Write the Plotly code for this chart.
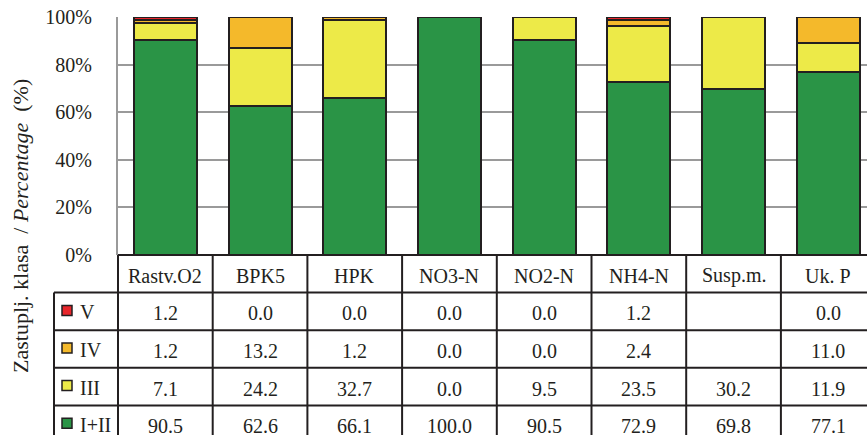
import plotly.graph_objects as go

# Water-quality parameters and share of each quality class (%)
categories = ["Rastv.O2", "BPK5", "HPK", "NO3-N", "NO2-N", "NH4-N", "Susp.m.", "Uk. P"]
class_names = ["V", "IV", "III", "I+II"]
class_colors = ["#E8262B", "#F4B92B", "#EDEA48", "#2A9446"]
share_V = [1.2, 0.0, 0.0, 0.0, 0.0, 1.2, None, 0.0]
share_IV = [1.2, 13.2, 1.2, 0.0, 0.0, 2.4, None, 11.0]
share_III = [7.1, 24.2, 32.7, 0.0, 9.5, 23.5, 30.2, 11.9]
share_I_II = [90.5, 62.6, 66.1, 100.0, 90.5, 72.9, 69.8, 77.1]
y_ticks = [0, 20, 40, 60, 80, 100]

rows = [share_V, share_IV, share_III, share_I_II]  # table order, top to bottom

# Geometry (pixels)
W, H = 867, 435
L, T, B = 118, 17, 180
PLOT_BOTTOM = H - B
PLOT_H = PLOT_BOTTOM - T
STEP = 94.7          # width of one category column
ROW_H = 37.6         # height of one table row
LEG_LEFT = 54
X_MAX = -0.5 + (W - L) / STEP

INK = "#231F20"
GRID = "#9A9A9A"
FONT = "Liberation Serif"


def px_x(px):
    return (px - L) / (W - L)


def px_y(py):
    return (PLOT_BOTTOM - py) / PLOT_H


fig = go.Figure()

# Stacked bars, bottom class first
for name, color, vals in reversed(list(zip(class_names, class_colors, rows))):
    fig.add_trace(go.Bar(
        x=list(range(len(categories))), y=vals, name=name,
        marker=dict(color=color, line=dict(color=INK, width=2)),
        hoverinfo="skip",
    ))

shapes = []
annotations = []

# Data table grid
row_y = [PLOT_BOTTOM + i * ROW_H for i in range(6)]
shapes.append(dict(type="line", xref="paper", yref="paper",
                   x0=px_x(L), x1=px_x(W), y0=px_y(row_y[0]), y1=px_y(row_y[0]),
                   line=dict(color=INK, width=2)))
for i in range(1, 5):
    shapes.append(dict(type="line", xref="paper", yref="paper",
                       x0=px_x(LEG_LEFT), x1=px_x(W), y0=px_y(row_y[i]), y1=px_y(row_y[i]),
                       line=dict(color=INK, width=2)))
for k in range(len(categories)):
    cx = L + k * STEP
    shapes.append(dict(type="line", xref="paper", yref="paper",
                       x0=px_x(cx), x1=px_x(cx), y0=px_y(row_y[0]), y1=px_y(row_y[5]),
                       line=dict(color=INK, width=2)))
shapes.append(dict(type="line", xref="paper", yref="paper",
                   x0=px_x(LEG_LEFT), x1=px_x(LEG_LEFT), y0=px_y(row_y[1]), y1=px_y(row_y[5]),
                   line=dict(color=INK, width=2)))

text_font = dict(family=FONT, size=20, color=INK)

# Column headers
for k, cat in enumerate(categories):
    annotations.append(dict(xref="paper", yref="paper",
                            x=px_x(L + (k + 0.5) * STEP), y=px_y(row_y[0] + ROW_H / 2 + 2),
                            text=cat, showarrow=False, font=text_font,
                            xanchor="center", yanchor="middle"))

# Row legend keys and values
for i, (name, color, vals) in enumerate(zip(class_names, class_colors, rows)):
    cy = row_y[i + 1] + ROW_H / 2
    shapes.append(dict(type="rect", xref="paper", yref="paper",
                       x0=px_x(62), x1=px_x(72), y0=px_y(cy + 4), y1=px_y(cy - 6),
                       fillcolor=color, line=dict(color=INK, width=1.5)))
    annotations.append(dict(xref="paper", yref="paper",
                            x=px_x(78), y=px_y(cy + 1), text=name, showarrow=False,
                            font=text_font, xanchor="left", yanchor="middle"))
    for k, v in enumerate(vals):
        annotations.append(dict(xref="paper", yref="paper",
                                x=px_x(L + (k + 0.5) * STEP), y=px_y(cy + 2),
                                text="" if v is None else f"{v:.1f}", showarrow=False,
                                font=text_font, xanchor="center", yanchor="middle"))

# Vertical axis title
nb = "\u00a0"
annotations.append(dict(xref="paper", yref="paper", x=px_x(20), y=px_y(226),
                        text=f"Zastuplj. klasa{nb}{nb}/ <i>Percentage</i>{nb}{nb}(%)",
                        textangle=-90, showarrow=False,
                        font=dict(family=FONT, size=22, color=INK),
                        xanchor="center", yanchor="middle"))

fig.update_layout(
    width=W, height=H,
    margin=dict(l=L, r=0, t=T, b=B, pad=0),
    paper_bgcolor="white", plot_bgcolor="white",
    barmode="stack", bargap=0.335, showlegend=False,
    shapes=shapes, annotations=annotations,
    font=dict(family=FONT, size=20, color=INK),
    xaxis=dict(range=[-0.5, X_MAX], showticklabels=False, showgrid=False,
               zeroline=False, showline=False, fixedrange=True),
    yaxis=dict(range=[0, 100], tickvals=y_ticks, ticktext=[f"{t}%" for t in y_ticks],
               showgrid=True, gridcolor=GRID, gridwidth=2, zeroline=False,
               showline=True, linecolor=GRID, linewidth=2,
               ticks="", ticklabelstandoff=20,
               tickfont=dict(family=FONT, size=20, color=INK), fixedrange=True),
)

fig.write_html("out.html", config={"displayModeBar": False})
